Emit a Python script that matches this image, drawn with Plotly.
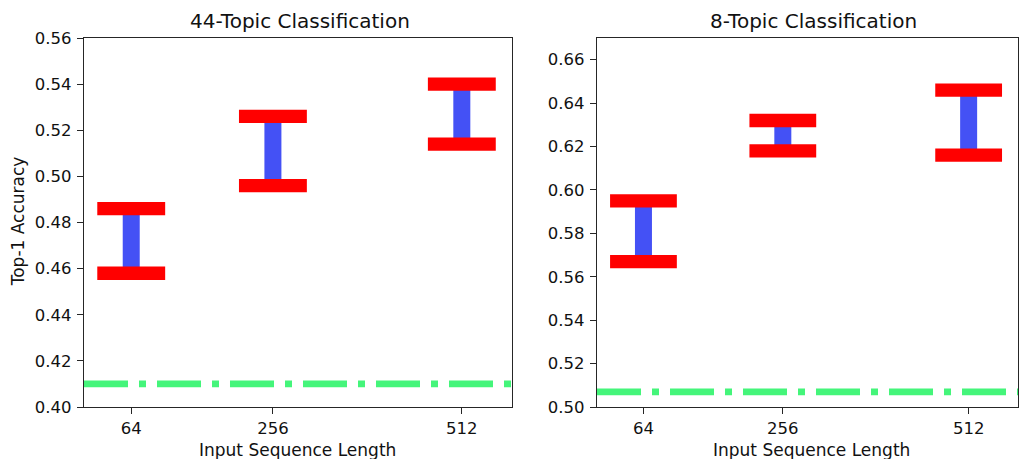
import plotly.graph_objects as go

# ---- data ----
categories = [64, 256, 512]
tick_labels = ["64", "256", "512"]

topic44_low = [0.458, 0.496, 0.514]
topic44_high = [0.486, 0.526, 0.540]
topic44_baseline = 0.410

topic8_low = [0.567, 0.618, 0.616]
topic8_high = [0.595, 0.632, 0.646]
topic8_baseline = 0.507

titles = ["44-Topic Classification", "8-Topic Classification"]
x_title = "Input Sequence Length"
y_title = "Top-1 Accuracy"

# ---- style ----
RED = "#ff0000"
BLUE = "#4451f5"
GREEN = "#44f57a"
CAP_HALF = 46          # half width of caps in x units
X_RANGE = [0, 580]
FONT = "DejaVu Sans"

fig = go.Figure()


def add_panel(low, high, baseline, xa, ya, x_range):
    # blue vertical bars
    bx, by = [], []
    for c, lo, hi in zip(categories, low, high):
        bx += [c, c, None]
        by += [lo, hi, None]
    fig.add_trace(go.Scatter(x=bx, y=by, mode="lines", xaxis=xa, yaxis=ya,
                             line=dict(color=BLUE, width=17), showlegend=False,
                             hoverinfo="skip"))
    # red caps
    cx, cy = [], []
    for c, lo, hi in zip(categories, low, high):
        for v in (lo, hi):
            cx += [c - CAP_HALF, c + CAP_HALF, None]
            cy += [v, v, None]
    fig.add_trace(go.Scatter(x=cx, y=cy, mode="lines", xaxis=xa, yaxis=ya,
                             line=dict(color=RED, width=13.3), showlegend=False,
                             hoverinfo="skip"))
    # green baseline
    fig.add_trace(go.Scatter(x=x_range, y=[baseline, baseline], mode="lines",
                             xaxis=xa, yaxis=ya, cliponaxis=True,
                             line=dict(color=GREEN, width=6.8, dash="44px,11px,7px,11px"),
                             showlegend=False, hoverinfo="skip"))


add_panel(topic44_low, topic44_high, topic44_baseline, "x", "y", X_RANGE)
add_panel(topic8_low, topic8_high, topic8_baseline, "x2", "y2", X_RANGE)

W, H = 1019, 459
y_dom = [(H - 407) / H, (H - 38) / H]

axis_common = dict(showgrid=False, zeroline=False, showline=True, linecolor="#262626",
                   linewidth=1.3, mirror=True, ticks="outside", ticklen=6, tickwidth=1.2,
                   tickcolor="#262626", tickfont=dict(family=FONT, size=16.5, color="#111"),
                   automargin=False)

fig.update_layout(
    width=W, height=H,
    margin=dict(l=0, r=0, t=0, b=0),
    paper_bgcolor="white", plot_bgcolor="white",
    xaxis=dict(domain=[84 / W, 512 / W], range=X_RANGE, tickvals=categories,
               ticktext=tick_labels, anchor="y", **axis_common),
    yaxis=dict(domain=y_dom, range=[0.40, 0.56], dtick=0.02, tick0=0.40,
               tickformat=".2f", anchor="x", ticklabelstandoff=2, **axis_common),
    xaxis2=dict(domain=[597 / W, 1018 / W], range=X_RANGE, tickvals=categories,
                ticktext=tick_labels, anchor="y2", **axis_common),
    yaxis2=dict(domain=y_dom, range=[0.50, 0.67], dtick=0.02, tick0=0.50,
                tickformat=".2f", anchor="x2", ticklabelstandoff=2, **axis_common),
    annotations=[
        dict(text=titles[0], x=300.3 / W, y=(H - 20.7) / H, xref="paper", yref="paper",
             showarrow=False, xanchor="center", yanchor="middle",
             font=dict(family=FONT, size=20, color="#111")),
        dict(text=titles[1], x=813.7 / W, y=(H - 20.7) / H, xref="paper", yref="paper",
             showarrow=False, xanchor="center", yanchor="middle",
             font=dict(family=FONT, size=20, color="#111")),
        dict(text=x_title, x=297.8 / W, y=(H - 450) / H, xref="paper", yref="paper",
             showarrow=False, xanchor="center", yanchor="middle",
             font=dict(family=FONT, size=17, color="#111")),
        dict(text=x_title, x=811.2 / W, y=(H - 450) / H, xref="paper", yref="paper",
             showarrow=False, xanchor="center", yanchor="middle",
             font=dict(family=FONT, size=17, color="#111")),
        dict(text=y_title, x=18.3 / W, y=(H - 221) / H, xref="paper", yref="paper",
             showarrow=False, xanchor="center", yanchor="middle", textangle=-90,
             font=dict(family=FONT, size=17, color="#111")),
    ],
)

fig.write_html("out.html",
               config={"displayModeBar": False},
               post_script="document.body.style.margin='0';document.body.style.overflow='hidden';")
